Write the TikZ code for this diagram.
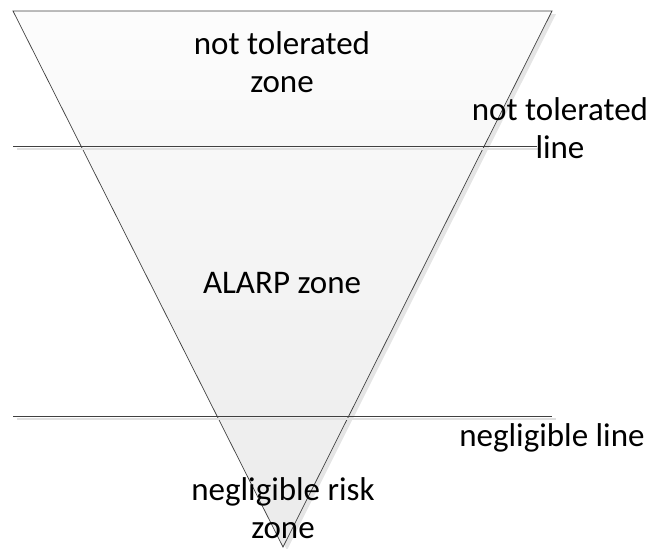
\documentclass[tikz,border=0pt]{standalone}
\usepackage{fontspec}
\setmainfont{Carlito}
\begin{document}
\begin{tikzpicture}[x=1pt,y=-1pt,
		zonetext/.style={font=\fontsize{33}{38}\selectfont,align=center,inner sep=0pt},
		limit/.style={draw=black!75,line width=0.8pt},
		shadowline/.style={draw=black!12,line width=1.2pt}]
		\useasboundingbox (0,0) rectangle (649,549);
		%risk triangle
		\coordinate (tl) at (13,11);
		\coordinate (tr) at (552,11);
		\coordinate (apex) at (283,547);
		\fill[black!10] ([shift={(4,3)}]tl) -- ([shift={(4,3)}]tr) -- ([shift={(4,3)}]apex) -- cycle;
		\shade[top color=black!1,bottom color=black!8,draw=black!75,line width=0.7pt] (tl) -- (tr) -- (apex) -- cycle;
		%limit lines
		\coordinate (ntl-a) at (13,146);
		\coordinate (ntl-b) at (537,146);
		\coordinate (ngl-a) at (13,416);
		\coordinate (ngl-b) at (552,416);
		\draw[shadowline] ([shift={(4,3)}]ntl-a) -- ([shift={(4,3)}]ntl-b);
		\draw[shadowline] ([shift={(4,3)}]ngl-a) -- ([shift={(4,3)}]ngl-b);
		\draw[limit] (ntl-a) -- (ntl-b);
		\draw[limit] (ngl-a) -- (ngl-b);
		%labels
		\node[zonetext] (ntzone) at (282,62) {not tolerated\\zone};
		\node[zonetext] (ntline) at (560,128) {not tolerated\\line};
		\node[zonetext] (alarp) at (282,283) {ALARP zone};
		\node[zonetext] (ngline) at (552,438) {negligible line};
		\node[zonetext] (ngzone) at (283,508) {negligible risk\\zone};
\end{tikzpicture}
\end{document}
